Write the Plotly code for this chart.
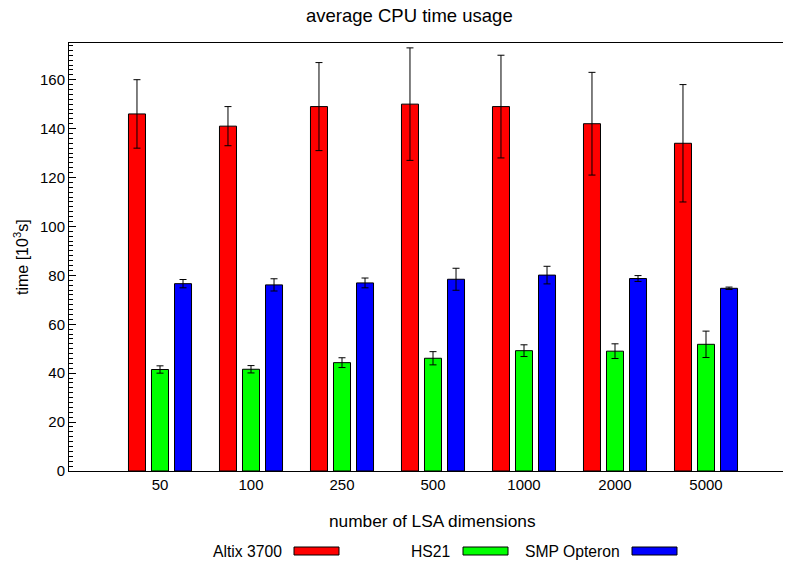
import plotly.graph_objects as go

categories = ["50", "100", "250", "500", "1000", "2000", "5000"]
series_names = ["Altix 3700", "HS21", "SMP Opteron"]
altix = [146, 141, 149, 150, 149, 142, 134]
altix_err = [14, 8, 18, 23, 21, 21, 24]
hs21 = [41.5, 41.6, 44.3, 46.1, 49.2, 49.0, 51.8]
hs21_err = [1.5, 1.5, 2.0, 2.7, 2.4, 3.0, 5.4]
smp = [76.6, 76.1, 76.9, 78.4, 80.1, 78.7, 74.7]
smp_err = [1.7, 2.5, 2.0, 4.5, 3.6, 1.2, 0.5]
colors = ["#ff0000", "#00ff00", "#0000ff"]

# page body has an 8px default margin; compensate
OFF = 8
W, H = 791 - OFF, 565 - OFF
PL, PR, PT, PB = 69, 791, 43, 471   # plot box in window pixels
L, R, T, B = PL - OFF, 791 - PR, PT - OFF, 565 - PB
pw = PR - PL
ph = PB - PT

FONT = "Liberation Sans, Arial, sans-serif"
bar_w = 0.187
shifts = [-0.253, 0.0, 0.253]

fig = go.Figure()
for name, vals, errs, col, sh in zip(series_names, [altix, hs21, smp],
                                      [altix_err, hs21_err, smp_err], colors, shifts):
    fig.add_trace(go.Bar(
        x=[i + sh for i in range(len(categories))],
        y=vals,
        width=bar_w,
        name=name,
        marker=dict(color=col, line=dict(color="black", width=1)),
        error_y=dict(type="data", array=errs, visible=True, color="black",
                     thickness=1, width=3.5),
        showlegend=False,
    ))

fig.update_layout(
    width=W, height=H,
    margin=dict(l=L, r=R, t=T, b=B, pad=0),
    plot_bgcolor="white", paper_bgcolor="white",
    barmode="overlay",
    font=dict(family=FONT, size=15, color="black"),
    showlegend=False,
)

fig.update_xaxes(
    range=[-1, -1 + pw / 91.0],
    tickvals=list(range(len(categories))),
    ticktext=categories,
    ticks="", showgrid=False, zeroline=False,
    showline=True, linecolor="black", linewidth=1, mirror=True,
    tickfont=dict(size=15),
)
fig.update_yaxes(
    range=[0, 175],
    tickvals=list(range(0, 161, 20)),
    ticks="inside", ticklen=7, tickcolor="black",
    minor=dict(ticks="inside", ticklen=4, dtick=2, tickcolor="black", showgrid=False),
    showgrid=False, zeroline=False,
    showline=True, linecolor="black", linewidth=1, mirror=False,
    tickfont=dict(size=15),
)

def px_x(p):
    return (p - PL) / pw

def px_y(p):
    return (PB - p) / ph

ann = []
ann.append(dict(text="average CPU time usage", x=px_x(409), y=px_y(15.5), xref="paper", yref="paper",
                showarrow=False, font=dict(size=18.5), xanchor="center", yanchor="middle"))
ann.append(dict(text="number of LSA dimensions", x=px_x(432), y=px_y(521), xref="paper", yref="paper",
                showarrow=False, font=dict(size=17.3), xanchor="center", yanchor="middle"))
ann.append(dict(text="time [10<sup>3</sup>s]", x=px_x(21), y=px_y(257), xref="paper", yref="paper",
                showarrow=False, font=dict(size=16), textangle=-90, xanchor="center", yanchor="middle"))

legend_text_right = [284, 452, 622]
legend_sw = [(294, 339), (463, 508), (632, 677)]
shapes = []
for name, tr, (s0, s1), col in zip(series_names, legend_text_right, legend_sw, colors):
    ann.append(dict(text=name, x=px_x(tr), y=px_y(551), xref="paper", yref="paper",
                    showarrow=False, font=dict(size=15.7), xanchor="right", yanchor="middle"))
    shapes.append(dict(type="rect", xref="paper", yref="paper",
                       x0=px_x(s0), x1=px_x(s1), y0=px_y(547), y1=px_y(555),
                       fillcolor=col, line=dict(color="black", width=1)))

fig.update_layout(annotations=ann, shapes=shapes)
fig.write_html("out.html")
